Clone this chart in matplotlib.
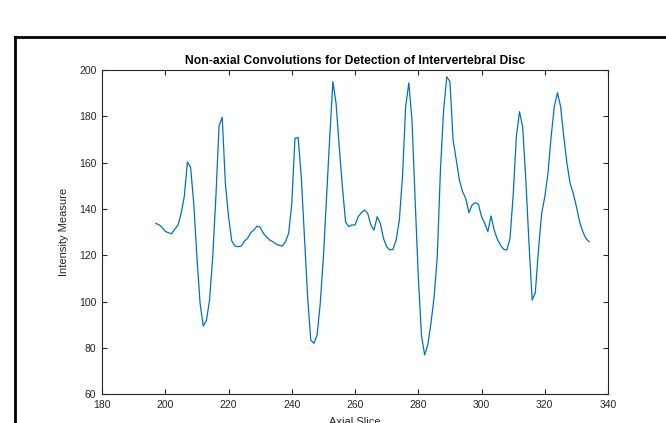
import matplotlib.pyplot as plt
from matplotlib.lines import Line2D

plt.rcParams['font.family'] = ['Liberation Sans', 'DejaVu Sans']

# axial slice index and measured intensity
slices = list(range(197, 335))
intensity = [
    133.8, 133.2, 132.1, 130.3, 129.8, 129.3, 131.3, 132.9, 138.1, 145.3,
    160.3, 158.0, 142.4, 119.4, 99.3, 89.5, 91.8, 100.7, 119.4, 145.3,
    175.8, 179.6, 151.1, 136.7, 126.3, 124.0, 123.7, 124.0, 126.1, 127.3,
    129.8, 130.9, 132.6, 132.1, 129.5, 128.0, 126.6, 125.9, 124.9, 124.3,
    124.0, 125.9, 129.5, 142.4, 170.5, 170.9, 153.9, 128.0, 102.1, 83.4,
    82.0, 85.6, 99.3, 119.4, 145.3, 171.2, 195.0, 185.6, 166.9, 149.6,
    134.5, 132.4, 133.1, 133.1, 136.7, 138.4, 139.6, 138.1, 133.1, 130.9,
    136.7, 133.8, 127.3, 123.7, 122.3, 122.6, 126.6, 135.2, 153.9, 184.2,
    194.5, 178.4, 143.9, 110.8, 85.5, 77.0, 81.3, 90.6, 102.1, 119.4,
    156.8, 182.7, 197.1, 195.0, 169.8, 161.1, 152.5, 147.5, 144.6, 138.4,
    141.7, 142.7, 142.1, 136.7, 133.8, 130.2, 137.0, 130.9, 126.9, 124.4,
    122.6, 122.3, 127.3, 146.0, 171.2, 182.0, 175.5, 152.5, 125.2, 100.7,
    103.9, 122.3, 138.1, 145.3, 155.4, 171.2, 184.2, 190.2, 184.2, 171.2,
    159.7, 151.1, 146.7, 141.0, 134.5, 130.2, 127.3, 125.9,
]

xticks = [180, 200, 220, 240, 260, 280, 300, 320, 340]
yticks = [60, 80, 100, 120, 140, 160, 180, 200]

fig = plt.figure(figsize=(6.66, 4.23), dpi=100)
ax = fig.add_axes([0.1532, 0.0678, 0.7598, 0.7667])

ax.plot(slices, intensity, color='#0072BD', lw=0.9)

ax.set_xlim(180, 340)
ax.set_ylim(60, 200)
ax.set_xticks(xticks)
ax.set_yticks(yticks)

gray = '#262626'
for s in ax.spines.values():
    s.set_color(gray)
    s.set_linewidth(0.8)
ax.tick_params(direction='in', length=3.5, width=0.8, colors=gray,
               labelsize=7.5, top=True, right=True, pad=4)

ax.set_title('Non-axial Convolutions for Detection of Intervertebral Disc',
             fontsize=8.7, fontweight='bold', pad=4)
ax.set_xlabel('Axial Slice', fontsize=8, color=gray, labelpad=5)
ax.set_ylabel('Intensity Measure', fontsize=8, color=gray, labelpad=7)

# window border from the screenshot
fig.add_artist(Line2D([0.0225, 1.0], [0.9125, 0.9125], color='black', lw=2.0))
fig.add_artist(Line2D([0.0225, 0.0225], [0.0, 0.9125], color='black', lw=2.0))

fig.savefig('out.png', dpi=100)
